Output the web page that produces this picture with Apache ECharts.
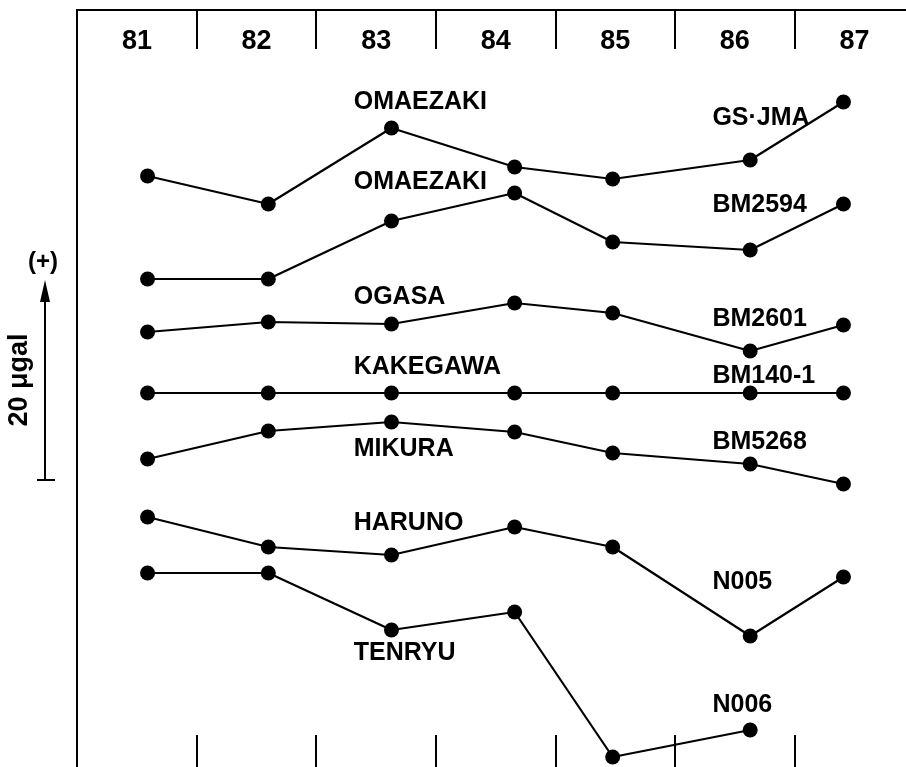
<!DOCTYPE html>
<html>
<head>
<meta charset="utf-8">
<script src="https://cdn.jsdelivr.net/npm/echarts@6/dist/echarts.min.js"></script>
<style>
html,body{margin:0;padding:0;background:#fff;overflow:hidden;width:906px;height:767px;}
#c{width:917px;height:767px;}
</style>
</head>
<body>
<div id="c"></div>
<script>
// Measurement epochs (decimal year, 19xx)
const epochs = [81.59, 82.60, 83.63, 84.66, 85.48, 86.63, 87.41];
// Year tick labels (placed at the middle of each year band)
const yearLabels = ['81', '82', '83', '84', '85', '86', '87'];

// Relative gravity values (μgal, arbitrary offsets per station)
const omaezakiGS = [59.1, 56.3, 63.9, 60.0, 58.8, 60.7, 66.5];
const omaezakiBM = [48.8, 48.8, 54.6, 57.4, 52.5, 51.7, 56.3];
const ogasa      = [43.5, 44.5, 44.3, 46.4, 45.4, 41.6, 44.2];
const kakegawa   = [37.4, 37.4, 37.4, 37.4, 37.4, 37.4, 37.4];
const mikura     = [30.8, 33.6, 34.5, 33.5, 31.4, 30.3, 28.3];
const haruno     = [25.0, 22.0, 21.2, 24.0, 22.0, 13.1, 19.0];
const tenryu     = [19.4, 19.4, 13.7, 15.5, 1.0, 3.7];

// Station names (left) and bench-mark names (right)
const leftNames  = ['OMAEZAKI', 'OMAEZAKI', 'OGASA', 'KAKEGAWA', 'MIKURA', 'HARUNO', 'TENRYU'];
const leftNameY  = [66.5, 58.5, 47.0, 40.0, 31.8, 24.4, 11.4];
const rightNames = ['GS·JMA', 'BM2594', 'BM2601', 'BM140-1', 'BM5268', 'N005', 'N006'];
const rightNameY = [64.9, 56.2, 44.8, 39.1, 32.5, 18.5, 6.2];
const leftNameX = 83.31;
const rightNameX = 86.31;

// Scale bar: 20 μgal
const scaleBase = 28.7;
const scaleLength = 20;

const FONT = 'Liberation Sans, Arial, sans-serif';
const stations = [omaezakiGS, omaezakiBM, ogasa, kakegawa, mikura, haruno, tenryu];

const chart = echarts.init(document.getElementById('c'), null, {renderer: 'canvas'});

const lineSeries = stations.map(vals => ({
  type: 'line',
  xAxisIndex: 0,
  yAxisIndex: 0,
  data: vals.map((v, i) => [epochs[i], v]),
  symbol: 'circle',
  symbolSize: 15,
  lineStyle: {color: '#000', width: 2.2},
  itemStyle: {color: '#000', opacity: 1},
  z: 3
}));

function labelSeries(names, ys, x) {
  return {
    type: 'scatter',
    xAxisIndex: 0, yAxisIndex: 0,
    symbolSize: 1,
    silent: true,
    itemStyle: {opacity: 0},
    data: names.map((n, i) => ({value: [x, ys[i]], name: n})),
    label: {
      show: true, position: 'right', distance: 0, opacity: 1,
      formatter: p => p.name,
      fontFamily: FONT, fontSize: 25, fontWeight: 'bold', color: '#000'
    },
    z: 4
  };
}

chart.setOption({
  animation: false,
  backgroundColor: '#fff',
  grid: {left: 77, right: 0, top: 10, bottom: 0, containLabel: false},
  xAxis: [
    {
      type: 'value', position: 'top', min: 81, max: 88, interval: 1,
      axisLine: {show: true, onZero: false, lineStyle: {color: '#000', width: 2}},
      axisTick: {show: true, inside: true, length: 39, lineStyle: {color: '#000', width: 2}},
      axisLabel: {
        show: true, inside: true, margin: 18,
        fontFamily: FONT, fontSize: 27, fontWeight: 'bold', color: '#000',
        padding: [0, 0, 0, 120],
        formatter: v => {
          const i = Math.round(v) - 81;
          return (Math.abs(v - Math.round(v)) < 1e-6 && i >= 0 && i < yearLabels.length) ? yearLabels[i] : '';
        }
      },
      splitLine: {show: false}
    },
    {
      type: 'value', position: 'bottom', min: 81, max: 88, interval: 1,
      axisLine: {show: false, onZero: false},
      axisTick: {show: true, inside: true, length: 32, lineStyle: {color: '#000', width: 2}},
      axisLabel: {show: false},
      splitLine: {show: false}
    }
  ],
  yAxis: {
    type: 'value', min: 0, max: 75.7,
    axisLine: {show: true, onZero: false, lineStyle: {color: '#000', width: 2}},
    axisTick: {show: false}, axisLabel: {show: false}, splitLine: {show: false}
  },
  series: lineSeries.concat([
    labelSeries(leftNames, leftNameY, leftNameX),
    labelSeries(rightNames, rightNameY, rightNameX),
    {type: 'line', xAxisIndex: 1, yAxisIndex: 0, data: [], silent: true}
  ])
});

// Scale bar drawn at the y-scale of the chart
const yBot = chart.convertToPixel({yAxisIndex: 0}, scaleBase);
const yTop = chart.convertToPixel({yAxisIndex: 0}, scaleBase + scaleLength);
const bx = 45;
chart.setOption({
  graphic: [
    {type: 'line', shape: {x1: bx, y1: yBot, x2: bx, y2: yTop + 18}, style: {stroke: '#000', lineWidth: 2}},
    {type: 'polygon', shape: {points: [[bx, yTop], [bx - 5, yTop + 22], [bx + 5, yTop + 22]]}, style: {fill: '#000'}},
    {type: 'line', shape: {x1: bx - 8, y1: yBot, x2: bx + 10, y2: yBot}, style: {stroke: '#000', lineWidth: 2}},
    {type: 'text', x: 43, y: yTop - 18, style: {text: '(+)', font: 'bold 24px ' + FONT, fill: '#000', align: 'center', verticalAlign: 'middle'}},
    {type: 'text', x: 20, y: (yBot + yTop) / 2, rotation: Math.PI / 2,
     style: {text: '20 μgal', font: 'bold 27px ' + FONT, fill: '#000', align: 'center', verticalAlign: 'middle'}}
  ]
});
</script>
</body>
</html>
